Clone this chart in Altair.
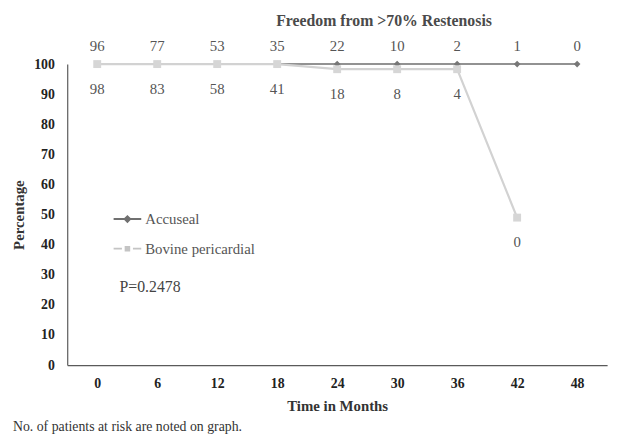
import altair as alt
import pandas as pd

months = [0, 6, 12, 18, 24, 30, 36, 42, 48]
accuseal_pct = [100, 100, 100, 100, 100, 100, 100, 100, 100]
accuseal_at_risk = [96, 77, 53, 35, 22, 10, 2, 1, 0]
bovine_months = [0, 6, 12, 18, 24, 30, 36, 42]
bovine_pct = [100, 100, 100, 100, 98.3, 98.3, 98.3, 49]
bovine_at_risk = [98, 83, 58, 41, 18, 8, 4, 0]
series_names = ["Accuseal", "Bovine pericardial"]
y_ticks = [0, 10, 20, 30, 40, 50, 60, 70, 80, 90, 100]

acc = pd.DataFrame({"series": series_names[0], "month": months,
                    "pct": accuseal_pct, "n": accuseal_at_risk})
bov = pd.DataFrame({"series": series_names[1], "month": bovine_months,
                    "pct": bovine_pct, "n": bovine_at_risk})
df = pd.concat([acc, bov], ignore_index=True)

SERIF = "Liberation Serif"
ACC_COLOR = "#6e6e6e"
BOV_COLOR = "#d2d2d2"

x = alt.X("month:Q",
          scale=alt.Scale(domain=[-3, 51], nice=False, zero=False),
          axis=alt.Axis(values=months, title="Time in Months", labelPadding=12,
                        titlePadding=8))
y = alt.Y("pct:Q",
          scale=alt.Scale(domain=[0, 100], nice=False),
          axis=alt.Axis(values=y_ticks, title="Percentage", labelPadding=13,
                        titlePadding=7))

base = alt.Chart(df).encode(x=x, y=y)
acc_base = base.transform_filter(alt.datum.series == series_names[0])
bov_base = base.transform_filter(alt.datum.series == series_names[1])

acc_line = acc_base.mark_line(color=ACC_COLOR, strokeWidth=1.6)
acc_pts = acc_base.mark_point(shape="diamond", filled=True, size=45,
                              color="#777777", opacity=1)
bov_line = bov_base.mark_line(color=BOV_COLOR, strokeWidth=2.2)
bov_pts = bov_base.mark_point(shape="square", filled=True, size=64,
                              color="#d6d6d6", opacity=1)

acc_lbl = acc_base.mark_text(font=SERIF, fontSize=15, color="#555555",
                             baseline="middle", dy=-18).encode(text="n:Q")
bov_lbl = bov_base.mark_text(font=SERIF, fontSize=15, color="#555555",
                             baseline="middle", dy=25).encode(text="n:Q")

path_acc = "M-1,-0.07H1V0.07H-1ZM0,-0.3L0.3,0L0,0.3L-0.3,0Z"
path_bov = ("M-1,-0.06H-0.4V0.06H-1ZM0.4,-0.06H1V0.06H0.4Z"
            "M-0.2,-0.2H0.2V0.2H-0.2Z")

leg = alt.Legend(title=None, orient="none", legendX=47, legendY=143,
                 symbolSize=784, labelFont=SERIF, labelFontSize=15,
                 labelColor="#555555", rowPadding=8, labelOffset=4,
                 padding=0, symbolStrokeWidth=0, symbolOpacity=1)

legend_layer = alt.Chart(df).transform_filter("false").mark_point(
    filled=True).encode(
    x=x, y=y,
    color=alt.Color("series:N",
                    scale=alt.Scale(domain=series_names,
                                    range=["#707070", "#c4c4c4"]),
                    legend=leg),
    shape=alt.Shape("series:N",
                    scale=alt.Scale(domain=series_names,
                                    range=[path_acc, path_bov]),
                    legend=leg),
)

title_df = pd.DataFrame({"t": ["Freedom from >70% Restenosis"]})
title_text = alt.Chart(title_df).mark_text(
    font=SERIF, fontSize=16, fontWeight="bold", color="#4a4a4a",
    align="center", baseline="middle").encode(
    x=alt.value(321), y=alt.value(-44), text="t:N")

note_df = pd.DataFrame({"t": ["P=0.2478"]})
p_text = alt.Chart(note_df).mark_text(
    font=SERIF, fontSize=16, color="#444444", align="left",
    baseline="middle").encode(x=alt.value(53), y=alt.value(226), text="t:N")

foot_df = pd.DataFrame({"t": ["No. of patients at risk  are noted on graph."]})
foot = alt.Chart(foot_df).mark_text(
    font=SERIF, fontSize=14, color="#333333", align="left",
    baseline="middle").encode(x=alt.value(-55), y=alt.value(368), text="t:N")

chart = alt.layer(
    acc_line, acc_pts, bov_line, bov_pts, acc_lbl, bov_lbl,
    legend_layer, title_text, p_text, foot
).properties(
    width=547, height=305,
    autosize=alt.AutoSizeParams(type="none"),
    padding={"left": 60, "top": 54, "right": 9, "bottom": 70},
).configure_view(stroke=None).configure_axis(
    grid=False, ticks=False, tickSize=0,
    domainColor="#5a5a5a", domainWidth=1.2,
    labelFont=SERIF, labelFontWeight="bold", labelFontSize=14,
    labelColor="#222222",
    titleFont=SERIF, titleFontWeight="bold", titleFontSize=15,
    titleColor="#333333",
)

chart.save("out.html", embed_options={"renderer": "svg", "actions": False})
